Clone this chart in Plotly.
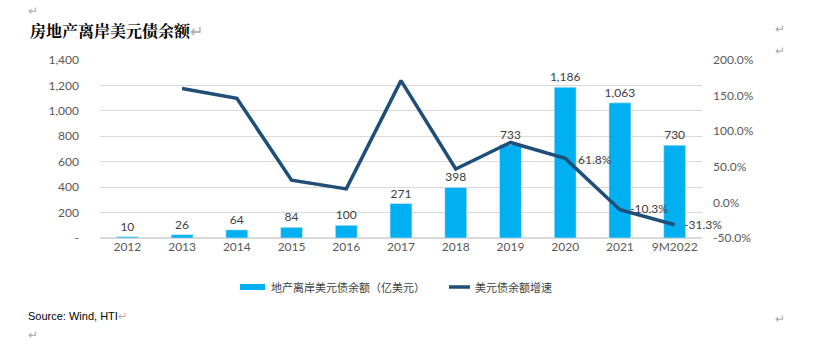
import plotly.graph_objects as go

categories = ["2012", "2013", "2014", "2015", "2016", "2017", "2018", "2019", "2020", "2021", "9M2022"]
balance = [10, 26, 64, 84, 100, 271, 398, 733, 1186, 1063, 730]
growth = [None, 160.0, 146.2, 31.3, 19.0, 171.0, 46.9, 84.2, 61.8, -10.3, -31.3]
growth_labels = ["", "", "", "", "", "", "", "", "61.8%", "-10.3%", "-31.3%"]
left_ticks = [0, 200, 400, 600, 800, 1000, 1200, 1400]
left_ticktext = ["-", "200", "400", "600", "800", "1,000", "1,200", "1,400"]
right_ticks = [-50, 0, 50, 100, 150, 200]
right_ticktext = ["-50.0%", "0.0%", "50.0%", "100.0%", "150.0%", "200.0%"]
bar_name = "地产离岸美元债余额（亿美元）"
line_name = "美元债余额增速"

FONT = "Lato, 'Liberation Sans', 'Noto Sans CJK SC', sans-serif"
CJK = "'Noto Sans CJK SC', sans-serif"
BAR_C = "#00B0F0"
LINE_C = "#1F4E79"
GRAY = "#AAAAAA"

fig = go.Figure()
fig.add_trace(go.Bar(
    x=categories, y=balance, name=bar_name,
    marker_color=BAR_C,
    text=[f"{v:,}" for v in balance], textposition="outside",
    constraintext="none",
    textfont=dict(size=12, color="#404040"), cliponaxis=False,
))
fig.add_trace(go.Scatter(
    x=categories, y=growth, name=line_name, yaxis="y2",
    mode="lines", line=dict(color=LINE_C, width=3.5),
))

def px_x(px):
    return (px - 100) / 602.0

def px_y(py):
    return (238 - py) / 178.0

shapes = [
    dict(type="rect", xref="paper", yref="paper", x0=px_x(240), x1=px_x(265),
         y0=px_y(290), y1=px_y(284), fillcolor=BAR_C, line=dict(width=0)),
    dict(type="line", xref="paper", yref="paper", x0=px_x(449), x1=px_x(470),
         y0=px_y(287), y1=px_y(287), line=dict(color=LINE_C, width=3.5)),
]

def note(text, x, y, size=12, color=GRAY, family=FONT, anchor="left"):
    return dict(text=text, xref="paper", yref="paper", x=x, y=y, xanchor=anchor,
                yanchor="middle", showarrow=False, font=dict(size=size, color=color, family=family))

annotations = [
    note("<b>房地产离岸美元债余额</b><span style='color:#AAAAAA'>↵</span>", px_x(28), px_y(30),
         size=16, color="black", family="'Noto Serif CJK SC', 'Noto Sans CJK SC', serif"),
    note("Source: Wind, HTI<span style='color:#AAAAAA'>↵</span>", px_x(26), px_y(316),
         size=11, color="black", family="'Liberation Sans', Arial, sans-serif"),
    note("↵", px_x(26), px_y(10)),
    note("↵", px_x(26), px_y(334)),
    note("↵", px_x(773), px_y(28)),
    note("↵", px_x(773), px_y(50)),
    note("↵", px_x(773), px_y(318)),
    note(bar_name, px_x(269), px_y(287), size=11, color="#404040", family=CJK),
    note(line_name, px_x(473), px_y(287), size=11, color="#404040", family=CJK),
]

shifts = {"61.8%": (11, -1), "-10.3%": (8, 1), "-31.3%": (7, 0)}
for i, (val, lab) in enumerate(zip(growth, growth_labels)):
    if lab:
        dx, dy = shifts[lab]
        annotations.append(dict(text=lab, x=i, y=val, xref="x", yref="y2",
                                xanchor="left", yanchor="middle", xshift=dx, yshift=dy,
                                showarrow=False, font=dict(size=12, color="#404040", family=FONT)))

fig.update_layout(
    width=817, height=344,
    margin=dict(l=100, r=115, t=60, b=106),
    paper_bgcolor="white", plot_bgcolor="white",
    font=dict(family=FONT, size=12, color="#595959"),
    bargap=0.6,
    showlegend=False,
    xaxis=dict(type="category", categoryorder="array", categoryarray=categories,
               range=[-0.5, len(categories) - 0.5], autorange=False,
               showline=False, tickfont=dict(size=12, color="#595959"), ticks="",
               showgrid=False),
    yaxis=dict(range=[0, 1400], tickvals=left_ticks, ticktext=left_ticktext,
               showgrid=True, gridcolor="#D9D9D9", gridwidth=1, zeroline=True,
               zerolinecolor="#D9D9D9", ticks="", ticklabelstandoff=20),
    yaxis2=dict(range=[-50, 200], tickvals=right_ticks, ticktext=right_ticktext,
                overlaying="y", side="right", showgrid=False, zeroline=False,
                ticks="", ticklabelstandoff=10),
    shapes=shapes,
    annotations=annotations,
)

fig.write_html("out.html")
